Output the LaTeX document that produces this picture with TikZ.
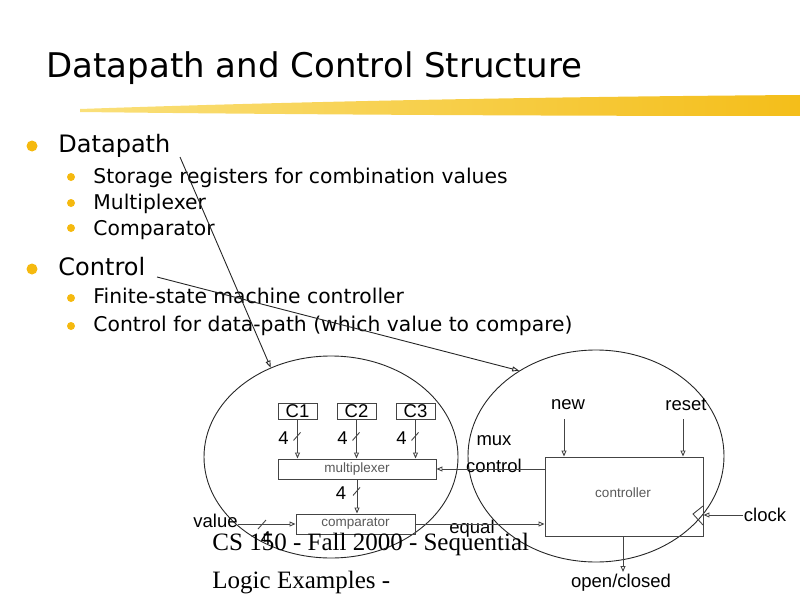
\documentclass[tikz,border=0pt]{standalone}
\usepackage{fontspec}
\setmainfont{Liberation Serif}
\setsansfont{Liberation Sans}
\newfontfamily\slidefont{DejaVu Sans}
\usetikzlibrary{arrows.meta,shapes.geometric}
\definecolor{bulletgold}{HTML}{F5B90F}
\definecolor{brushdark}{HTML}{F4BE1A}
\definecolor{brushpale}{HTML}{FAE07A}
\definecolor{wiregray}{HTML}{444444}
\begin{document}
\begin{tikzpicture}[x=1pt,y=-1pt, line width=0.9pt,
  every node/.style={inner sep=0pt},
  wire/.style={draw=wiregray, -{Triangle[open,length=6pt,width=5pt]}},
  pointer/.style={draw=black!85, -{Triangle[open,length=7pt,width=5pt]}},
  regbox/.style={draw=wiregray, minimum width=39pt, minimum height=16pt,
    font=\sffamily\fontsize{18.5}{18.5}\selectfont},
  blk/.style={draw=wiregray, text=black!65, font=\sffamily\fontsize{13.5}{13.5}\selectfont},
  sig/.style={font=\sffamily\fontsize{18.5}{18.5}\selectfont},
  head/.style={anchor=base west, font=\slidefont\fontsize{24}{24}\selectfont},
  item/.style={anchor=base west, font=\slidefont\fontsize{20.3}{20.3}\selectfont},
  foot/.style={anchor=base west, font=\rmfamily\fontsize{25}{25}\selectfont}]
\useasboundingbox (0,0) rectangle (800,599);

\node[anchor=base west, font=\slidefont\fontsize{34}{34}\selectfont] (title) at (46,78) {Datapath and Control Structure};
\shade[left color=brushpale, right color=brushdark]
  (80,109) .. controls (250,103) and (500,97) .. (800,95) -- (800,116)
  .. controls (500,116) and (250,114) .. (80,112) -- cycle;

% bullet list
\fill[bulletgold] (32,146) circle (5.5) (32,269) circle (5.5);
\foreach \y in {177,203,228,298,326} \fill[bulletgold] (71,\y) circle (4);
\node[head] (dp) at (58,153) {Datapath};
\node[item] (st) at (93,183) {Storage registers for combination values};
\node[item] (mx) at (93,209) {Multiplexer};
\node[item] (cp) at (93,235) {Comparator};
\node[head] (ct) at (58,275) {Control};
\node[item] (fs) at (93,303) {Finite-state machine controller};
\node[item] (cd) at (93,331) {Control for data-path (which value to compare)};

% the two halves
\node[draw=black!85, ellipse, minimum width=254pt, minimum height=202pt] (dpell) at (331,457) {};
\node[draw=black!85, ellipse, minimum width=256pt, minimum height=212pt] (ctlell) at (596,456) {};
\coordinate (dpptr) at (180,157);
\coordinate (ctptr) at (157,277);
\draw[pointer] (dpptr) -- (dpell.124);
\draw[pointer] (ctptr) -- (ctlell.132);

% datapath
\node[regbox] (c1) at (297.5,411) {C1};
\node[regbox] (c2) at (356.5,411) {C2};
\node[regbox] (c3) at (415.5,411) {C3};
\node[blk, minimum width=158pt, minimum height=20pt] (mux) at (357,469) {multiplexer};
\node[blk, minimum width=119pt, minimum height=20pt] (cmp) at (355.5,524) {comparator};
\foreach \r in {c1,c2,c3} {
  \draw[wire] (\r.south) -- (\r.south |- mux.north);
  \draw[wiregray] ([shift={(-4,21)}]\r.south) -- ([shift={(3,13)}]\r.south);
  \node[sig] at ([shift={(-14,19)}]\r.south) {4};
}
\draw[wire] (mux.south) -- (mux.south |- cmp.north);
\draw[wiregray] ([shift={(-4,16)}]mux.south) -- ([shift={(3,8)}]mux.south);
\node[sig] (mxw) at ([shift={(-16,14)}]mux.south) {4};
\node[sig, anchor=base west] (val) at (193,527) {value};
\draw[wire] (val.east |- cmp.west) -- (cmp.west);
\coordinate (valtick) at (262,524);
\draw[wiregray] ([shift={(-4,5)}]valtick) -- ([shift={(4,-4)}]valtick);
\node[sig] (valw) at (266,538) {4};

% control
\node[blk, minimum width=158pt, minimum height=79pt] (ctl) at (624,496.5) {};
\node[blk, draw=none] (ctltxt) at (623,493) {controller};
\node[sig] (new) at (568,405) {new};
\node[sig] (reset) at (686,405) {reset};
\node[sig] (clock) at (765,515) {clock};
\node[sig] (oc) at (621,583) {open/closed};
\node[sig] (muxl) at (494,441) {mux};
\node[sig] (ctrll) at (494,466) {control};
\node[sig] (eql) at (472,529) {equal};
\coordinate (newin) at (564,419);
\coordinate (resetin) at (683,419);
\coordinate (ocout) at (623,572);
\draw[wire] (newin) -- (newin |- ctl.north);
\draw[wire] (resetin) -- (resetin |- ctl.north);
\draw[wire] (ctl.west |- mux.east) -- (mux.east);
\draw[wire] (cmp.east) -- (cmp.east -| ctl.west);
\draw[wire] (clock.west) -- (clock.west -| ctl.east);
\draw[wire] (ocout |- ctl.south) -- (ocout);
\draw[wiregray] (703,506) -- (693,514) -- (703,525);

\node[foot] (foot1) at (212,550) {CS 150 - Fall 2000 - Sequential};
\node[foot] (foot2) at (212,588) {Logic Examples -};
\end{tikzpicture}
\end{document}
